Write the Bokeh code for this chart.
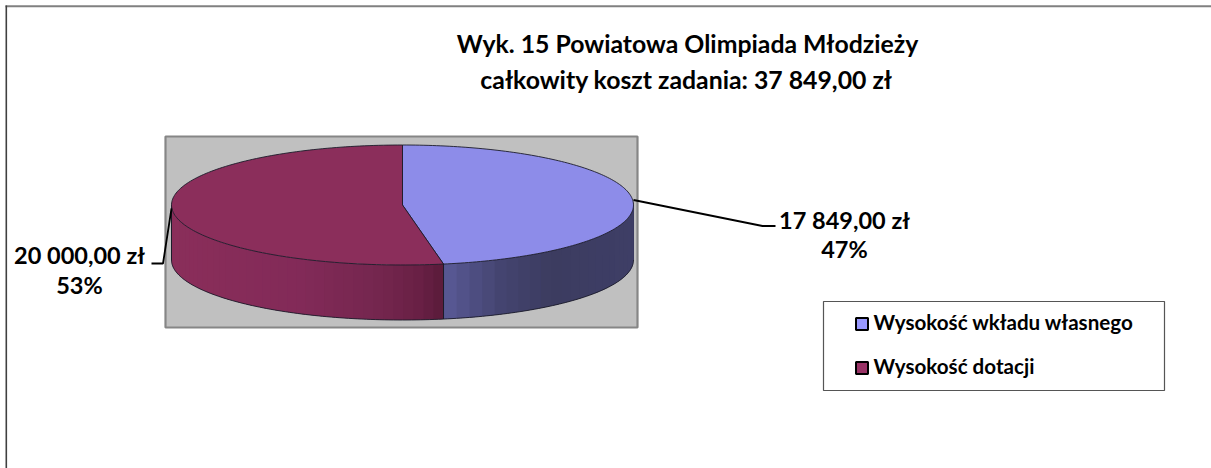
import math
from bokeh.plotting import figure
from bokeh.models import Range1d
from bokeh.core.properties import value
from bokeh.embed import file_html
from bokeh.resources import INLINE

# ---- data ----
title_lines = ["Wyk. 15 Powiatowa Olimpiada Młodzieży", "całkowity koszt zadania: 37 849,00 zł"]
categories = ["Wysokość wkładu własnego", "Wysokość dotacji"]
amounts = [17849.00, 20000.00]
amount_labels = ["17 849,00 zł", "20 000,00 zł"]
percent_labels = ["47%", "53%"]
top_colors = ["#8d8ce9", "#8b2e5b"]
legend_colors = ["#9999ff", "#993366"]

# ---- geometry / style ----
W, H = 1211, 468
CX, CY, RX, RY, DEPTH = 402.0, 204.5, 231.0, 60.0, 55.0
FONT = value("Lato")

p = figure(width=W, height=H, output_backend="svg", toolbar_location=None,
           x_range=Range1d(0, W), y_range=Range1d(H, 0),
           x_axis_type=None, y_axis_type=None, min_border=0,
           outline_line_color=None, background_fill_color="white",
           border_fill_color="white")
p.grid.visible = False

# outer frame: only the top and left edges are visible
p.segment([5], [5.8], [W], [5.8], line_color="#808080", line_width=2)
p.segment([5.8], [5], [5.8], [H], line_color="#404040", line_width=1.6)

# plot area
p.quad(left=[165], right=[637], top=[136], bottom=[327], fill_color="#c0c0c0",
       line_color="#868686", line_width=2.2)


def pt(theta, dy=0.0):
    return CX + RX * math.sin(theta), CY - RY * math.cos(theta) + dy


total = sum(amounts)
a0 = 0.0
a1 = 2 * math.pi * amounts[0] / total
a2 = 2 * math.pi


def mix(stops, t):
    for (t0, c0), (t1, c1) in zip(stops, stops[1:]):
        if t <= t1:
            f = (t - t0) / (t1 - t0)
            return "#%02x%02x%02x" % tuple(round(u + (v - u) * f) for u, v in zip(c0, c1))
    return "#%02x%02x%02x" % stops[-1][1]


# side wall shading along screen x, banded like the source
blue_side = [(443, (90, 90, 150)), (500, (68, 68, 112)), (550, (60, 60, 96)), (633, (62, 62, 102))]
red_side = [(171, (138, 46, 90)), (300, (130, 42, 88)), (380, (116, 38, 78)), (420, (104, 32, 68)), (443, (90, 27, 58))]


def side(start, end, stops, n):
    xs, ys, cs = [], [], []
    for i in range(n):
        t0 = start + (end - start) * i / n
        t1 = start + (end - start) * min(i + 2, n) / n
        tm = start + (end - start) * (i + 0.5) / n
        # strips overlap their successor so no seams show
        mid = [pt(t0 + (t1 - t0) * k / 4) for k in range(5)]
        xs.append([q[0] for q in mid] + [q[0] for q in reversed(mid)])
        ys.append([q[1] for q in mid] + [q[1] + DEPTH for q in reversed(mid)])
        cs.append(mix(stops, pt(tm)[0]))
    return xs, ys, cs


for args in [(math.pi / 2, a1, blue_side, 24), (3 * math.pi / 2, a1, red_side, 40)]:
    xs, ys, cs = side(*args)
    p.patches(xs, ys, fill_color=cs, line_color=None)


def arc(start, end, dy=0.0, n=160):
    pts = [pt(start + (end - start) * i / n, dy) for i in range(n + 1)]
    return [q[0] for q in pts], [q[1] for q in pts]


# side wall outlines
outline = "#1c1c2a"
bx, by = arc(math.pi / 2, 3 * math.pi / 2, DEPTH)
p.line(bx, by, line_color=outline, line_width=0.9)
for th in (math.pi / 2, 3 * math.pi / 2, a1):
    x0, y0 = pt(th)
    p.line([x0, x0], [y0, y0 + DEPTH], line_color=outline if th != math.pi / 2 else "#3a3a60", line_width=1)

# top slices, drawn from the amounts
for (s, e), col in zip([(a0, a1), (a1, a2)], top_colors):
    ax, ay = arc(s, e)
    p.patch([CX] + ax + [CX], [CY] + ay + [CY], fill_color=col, line_color=outline, line_width=0.9)

# leader lines
p.line([633, 762, 775], [199.5, 225.5, 225.5], line_color="black", line_width=1.8)
p.line([171, 162.5, 151], [208, 263, 263], line_color="black", line_width=1.8)

# title
p.text([687, 686], [43, 79], text=title_lines, text_font=FONT, text_font_style="bold",
       text_font_size="24.8px", text_color="black", text_align="center", text_baseline="middle")

# data labels
p.text([844, 79], [219, 254], text=amount_labels, text_font=FONT, text_font_style="bold",
       text_font_size="23.5px", text_color="black", text_align="center", text_baseline="middle")
p.text([844, 79], [248, 284], text=percent_labels, text_font=FONT, text_font_style="bold",
       text_font_size="23.5px", text_color="black", text_align="center", text_baseline="middle")

# legend
p.quad(left=[823], right=[1164], top=[301], bottom=[390], fill_color="white",
       line_color="#555555", line_width=1.2)
p.quad(left=[855.5, 855.5], right=[867.5, 867.5], top=[317.5, 361.5], bottom=[329.5, 373.5],
       fill_color=legend_colors, line_color="black", line_width=2)
p.text([873, 873], [321.5, 365], text=categories, text_font=FONT, text_font_style="bold",
       text_font_size="20.6px", text_color="black", text_align="left", text_baseline="middle")

open("out.html", "w").write(file_html(p, INLINE))
